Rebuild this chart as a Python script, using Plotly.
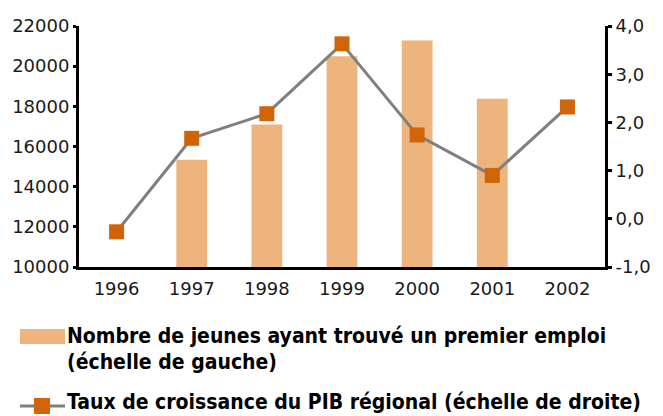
import plotly.graph_objects as go

# Données
annees = ['1996', '1997', '1998', '1999', '2000', '2001', '2002']
jeunes_emploi = [None, 15340, 17090, 20490, 21280, 18380, None]
croissance_pib = [-0.27, 1.67, 2.18, 3.63, 1.74, 0.90, 2.32]

gauche_vals = [10000, 12000, 14000, 16000, 18000, 20000, 22000]
droite_vals = [-1, 0, 1, 2, 3, 4]
droite_txt = ['-1,0', '0,0', '1,0', '2,0', '3,0', '4,0']

nom_barres = 'Nombre de jeunes ayant trouvé un premier emploi'
nom_barres2 = '(échelle de gauche)'
nom_ligne = 'Taux de croissance du PIB régional (échelle de droite)'

COUL_BARRE = '#EDB47E'
COUL_MARQ = '#CF6408'
COUL_LIGNE = '#7F7F7F'

# la page html ajoute une marge de 8 px autour du graphique
OFF = 8
W, H = 663 - OFF, 416 - OFF
L, R, T, B = 79 - OFF, 58, 26 - OFF, 149
PW, PH = W - L - R, H - T - B


def px_x(px):
    return (px - OFF - L) / PW


def px_y(py):
    return (H - B - (py - OFF)) / PH


def main():
    xs = list(range(len(annees)))
    xr = [-0.5, len(annees) - 0.5]
    bornes = [i + 0.5 for i in range(1, len(annees) - 1)]

    fig = go.Figure()
    fig.add_trace(go.Bar(
        x=xs, y=jeunes_emploi, width=0.41,
        marker=dict(color=COUL_BARRE, line=dict(width=0)),
        showlegend=False,
    ))
    fig.add_trace(go.Scatter(
        x=xs, y=croissance_pib, yaxis='y2', mode='lines+markers',
        line=dict(color=COUL_LIGNE, width=3),
        marker=dict(symbol='square', size=15, color=COUL_MARQ),
        showlegend=False,
    ))

    tick_font = dict(family='DejaVu Sans', size=18, color='#1a1a1a')
    sans_etiq = dict(showticklabels=False, showgrid=False, zeroline=False,
                     showline=False, automargin=False)

    fig.update_layout(
        width=W, height=H,
        margin=dict(l=L, r=R, t=T, b=B),
        paper_bgcolor='white', plot_bgcolor='white',
        showlegend=False,
        xaxis=dict(
            range=xr, tickmode='array', tickvals=xs, ticktext=annees,
            ticks='', showgrid=False, zeroline=False, automargin=False,
            showline=True, linecolor='black', linewidth=3,
            tickfont=tick_font, ticklabelstandoff=3,
        ),
        xaxis2=dict(
            range=xr, overlaying='x', anchor='y', side='bottom',
            tickmode='array', tickvals=bornes, ticks='outside',
            ticklen=5, tickwidth=3, tickcolor='black', **sans_etiq,
        ),
        xaxis3=dict(
            range=xr, overlaying='x', anchor='y', side='bottom',
            tickmode='array', tickvals=bornes, ticks='inside',
            ticklen=5, tickwidth=3, tickcolor='black', **sans_etiq,
        ),
        yaxis=dict(
            range=[10000, 22000], tickmode='array', tickvals=gauche_vals,
            tickformat='d', ticks='outside', ticklen=3, tickwidth=3,
            tickcolor='black', showgrid=False, zeroline=False, automargin=False,
            showline=True, linecolor='black', linewidth=3,
            tickfont=tick_font, ticklabelstandoff=0,
        ),
        yaxis3=dict(
            range=[10000, 22000], overlaying='y', side='left', anchor='x',
            tickmode='array', tickvals=gauche_vals, ticks='inside',
            ticklen=6, tickwidth=3, tickcolor='black', **sans_etiq,
        ),
        yaxis2=dict(
            range=[-1, 4], overlaying='y', side='right', anchor='x',
            tickmode='array', tickvals=droite_vals, ticktext=droite_txt,
            ticks='outside', ticklen=4, tickwidth=3, tickcolor='black',
            showgrid=False, zeroline=False, automargin=False,
            showline=True, linecolor='black', linewidth=3,
            tickfont=tick_font, ticklabelstandoff=0,
        ),
        yaxis4=dict(
            range=[-1, 4], overlaying='y', side='right', anchor='x',
            tickmode='array', tickvals=droite_vals, ticks='inside',
            ticklen=4, tickwidth=3, tickcolor='black', **sans_etiq,
        ),
    )

    # Légende dessinée à la main (rectangle + ligne avec carré)
    fig.add_shape(type='rect', xref='paper', yref='paper',
                  x0=px_x(20), x1=px_x(65), y0=px_y(344), y1=px_y(329),
                  fillcolor=COUL_BARRE, line=dict(width=0))
    fig.add_shape(type='line', xref='paper', yref='paper',
                  x0=px_x(20), x1=px_x(65), y0=px_y(406), y1=px_y(406),
                  line=dict(color=COUL_LIGNE, width=3))
    fig.add_shape(type='rect', xref='paper', yref='paper',
                  x0=px_x(34), x1=px_x(50), y0=px_y(414), y1=px_y(398),
                  fillcolor=COUL_MARQ, line=dict(width=0))

    leg_font = dict(family='DejaVu Sans Condensed, DejaVu Sans', size=21, color='black')
    for txt, py in [(nom_barres, 336), (nom_barres2, 362), (nom_ligne, 402)]:
        fig.add_annotation(
            xref='paper', yref='paper', x=px_x(65), y=px_y(py),
            xanchor='left', yanchor='middle', showarrow=False,
            text='<b>' + txt + '</b>', font=leg_font,
        )

    fig.write_html('out.html')


if __name__ == '__main__':
    main()
